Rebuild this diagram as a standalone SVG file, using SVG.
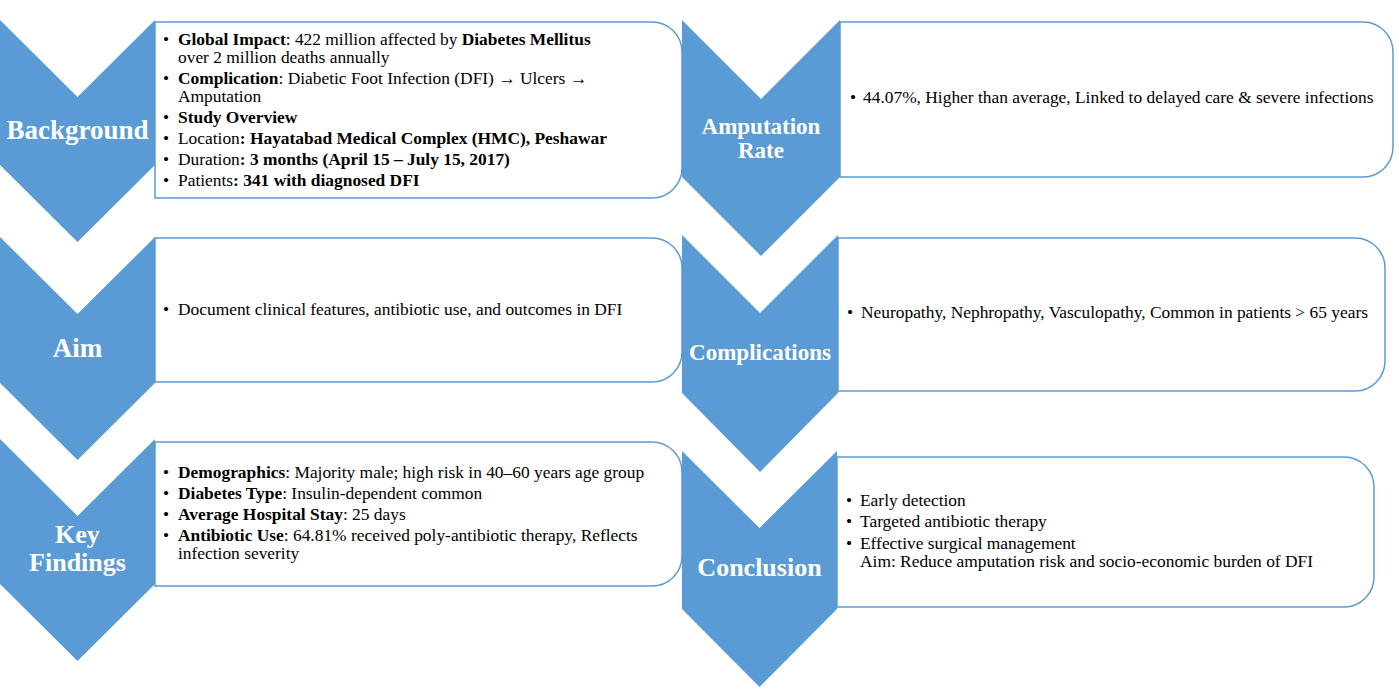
<svg xmlns="http://www.w3.org/2000/svg" width="1399" height="692" viewBox="0 0 1399 692">
<style>
.box{fill:#fff;stroke:#5B9BD5;stroke-width:1.5}
.chev{fill:#5B9BD5}
.lbl{font-family:"Liberation Serif","Times New Roman",serif;font-weight:bold;fill:#fff;text-anchor:middle}
.t{font-family:"Liberation Serif","Times New Roman",serif;font-size:17.4px;fill:#000}
.b{font-weight:bold}
</style>
<rect width="1399" height="692" fill="#fff"/>
<g id="connectors"></g>

<g id="background">
<path class="box" d="M155,22 H652 A30,30 0 0 1 682,52 V168 A30,30 0 0 1 652,198 H155 Z"/>
<polygon class="chev" points="0,20 77.5,97 155,20 155,165 77.5,242 0,165"/>
<text class="lbl" x="77.5" y="139" font-size="27">Background</text>
<g class="t">
<text x="163" y="45">•</text><text x="178" y="45"><tspan class="b">Global Impact</tspan>: 422 million affected by <tspan class="b">Diabetes Mellitus</tspan></text>
<text x="178" y="63">over 2 million deaths annually</text>
<text x="163" y="84">•</text><text x="178" y="84"><tspan class="b">Complication</tspan>: Diabetic Foot Infection (DFI) → Ulcers →</text>
<text x="178" y="102">Amputation</text>
<text x="163" y="123">•</text><text x="178" y="123" class="b">Study Overview</text>
<text x="163" y="144">•</text><text x="178" y="144">Location<tspan class="b">: Hayatabad Medical Complex (HMC), Peshawar</tspan></text>
<text x="163" y="165">•</text><text x="178" y="165">Duration<tspan class="b">: 3 months (April 15 – July 15, 2017)</tspan></text>
<text x="163" y="186">•</text><text x="178" y="186">Patients<tspan class="b">: 341 with diagnosed DFI</tspan></text>
</g>
</g>

<g id="aim">
<path class="box" d="M155,238 H652 A30,30 0 0 1 682,268 V352 A30,30 0 0 1 652,382 H155 Z"/>
<polygon class="chev" points="0,237 77.5,314 155,237 155,383 77.5,460 0,383"/>
<text class="lbl" x="77.5" y="357" font-size="27">Aim</text>
<g class="t">
<text x="163" y="315">•</text><text x="178" y="315">Document clinical features, antibiotic use, and outcomes in DFI</text>
</g>
</g>

<g id="key-findings">
<path class="box" d="M155,442 H652 A30,30 0 0 1 682,472 V556 A30,30 0 0 1 652,586 H155 Z"/>
<polygon class="chev" points="0,439 77.5,516 155,439 155,584 77.5,661 0,584"/>
<text class="lbl" x="77.5" y="543" font-size="26">Key</text>
<text class="lbl" x="77.5" y="571" font-size="26">Findings</text>
<g class="t">
<text x="163" y="478">•</text><text x="178" y="478"><tspan class="b">Demographics</tspan>: Majority male; high risk in 40–60 years age group</text>
<text x="163" y="499">•</text><text x="178" y="499"><tspan class="b">Diabetes Type</tspan>: Insulin-dependent common</text>
<text x="163" y="520">•</text><text x="178" y="520"><tspan class="b">Average Hospital Stay</tspan>: 25 days</text>
<text x="163" y="541">•</text><text x="178" y="541"><tspan class="b">Antibiotic Use</tspan>: 64.81% received poly-antibiotic therapy, Reflects</text>
<text x="178" y="559">infection severity</text>
</g>
</g>

<g id="amputation-rate">
<path class="box" d="M840,22 H1363 A30,30 0 0 1 1393,52 V147 A30,30 0 0 1 1363,177 H840 Z"/>
<polygon class="chev" points="682,20 761,99 840,20 840,177 761,256 682,177"/>
<text class="lbl" x="761" y="134" font-size="23">Amputation</text>
<text class="lbl" x="761" y="158" font-size="23">Rate</text>
<g class="t">
<text x="850" y="103">•</text><text x="863" y="103">44.07%, Higher than average, Linked to delayed care &amp; severe infections</text>
</g>
</g>

<g id="complications">
<path class="box" d="M838,238 H1355 A30,30 0 0 1 1385,268 V361 A30,30 0 0 1 1355,391 H838 Z"/>
<polygon class="chev" points="682,235 760,313 838,235 838,393 760,472 682,393"/>
<text class="lbl" x="760" y="360" font-size="23">Complications</text>
<g class="t">
<text x="847" y="318">•</text><text x="861" y="318">Neuropathy, Nephropathy, Vasculopathy, Common in patients &gt; 65 years</text>
</g>
</g>

<g id="conclusion">
<path class="box" d="M837,457 H1344 A30,30 0 0 1 1374,487 V577 A30,30 0 0 1 1344,607 H837 Z"/>
<polygon class="chev" points="682,451 759.5,528 837,451 837,609 759.5,687 682,609"/>
<text class="lbl" x="759.5" y="576" font-size="26">Conclusion</text>
<g class="t">
<text x="846" y="506">•</text><text x="860" y="506">Early detection</text>
<text x="846" y="527">•</text><text x="860" y="527">Targeted antibiotic therapy</text>
<text x="846" y="549">•</text><text x="860" y="549">Effective surgical management</text>
<text x="860" y="567">Aim: Reduce amputation risk and socio-economic burden of DFI</text>
</g>
</g>
</svg>
